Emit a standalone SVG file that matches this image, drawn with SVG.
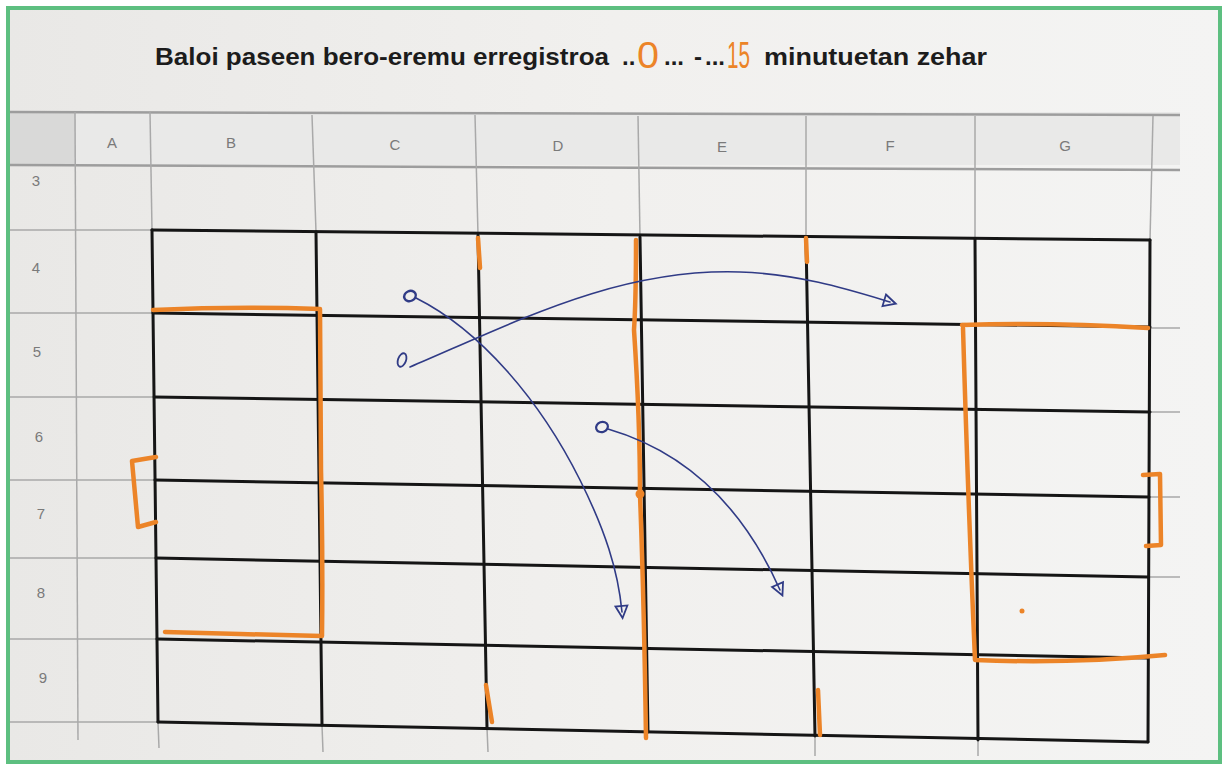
<svg xmlns="http://www.w3.org/2000/svg" width="1225" height="769" viewBox="0 0 1225 769">
<defs>
<style>
.sheet{stroke:#a9a9a9;stroke-width:1.5;fill:none}
.sheetb{stroke:#9d9d9d;stroke-width:2.5;fill:none}
.grid{stroke:#151515;stroke-width:3;fill:none;stroke-linecap:round}
.orange{stroke:#ec8428;stroke-width:4.5;fill:none;stroke-linecap:round;stroke-linejoin:round}
.pen{stroke:#303b86;stroke-width:1.6;fill:none;stroke-linecap:round}
.lbl{font-family:"Liberation Sans",Arial,sans-serif;font-size:15px;fill:#7a7a7a;text-anchor:middle}
.title{font-family:"Liberation Sans",Arial,sans-serif;font-size:24px;font-weight:bold;fill:#1c1c1c}
.hand{font-family:"Liberation Sans",Arial,sans-serif;font-size:36px;fill:#ec8428}
</style>
<linearGradient id="paper" x1="0" y1="0" x2="1" y2="0">
<stop offset="0" stop-color="#e9e8e6"/>
<stop offset="0.5" stop-color="#f1f0ee"/>
<stop offset="1" stop-color="#f4f4f3"/>
</linearGradient>
<marker id="tri" markerWidth="16" markerHeight="16" refX="8" refY="8" orient="auto" markerUnits="userSpaceOnUse">
<path d="M2,2 L14,8 L2,14 Z" fill="none" stroke="#303b86" stroke-width="1.8"/>
</marker>
</defs>

<rect x="0" y="0" width="1225" height="769" fill="#ffffff"/>
<rect x="8" y="8" width="1212" height="754" fill="url(#paper)"/>

<!-- title -->
<g id="title">
<text class="title" x="155" y="65" textLength="454" lengthAdjust="spacingAndGlyphs">Baloi paseen bero-eremu erregistroa</text>
<text class="title" x="622" y="65">..</text>
<text class="hand" x="637" y="68" textLength="22" lengthAdjust="spacingAndGlyphs">0</text>
<text class="title" x="664" y="65">...</text>
<text class="title" x="694" y="65">-</text>
<text class="title" x="705" y="65">...</text>
<text class="hand" x="727" y="68" textLength="23" lengthAdjust="spacingAndGlyphs">15</text>
<text class="title" x="764" y="65" textLength="223" lengthAdjust="spacingAndGlyphs">minutuetan zehar</text>
</g>

<!-- spreadsheet background -->
<g id="spreadsheet">
<rect x="10" y="112" width="65" height="53" fill="#d9d9d8"/>
<rect x="75" y="112" width="1105" height="53" fill="#e9e9e8"/>
<line class="sheetb" x1="10" y1="112" x2="1180" y2="115"/>
<line class="sheetb" x1="10" y1="165" x2="1180" y2="170"/>
<line class="sheet" x1="10" y1="230" x2="152" y2="230"/>
<line class="sheet" x1="10" y1="313" x2="152" y2="313"/>
<line class="sheet" x1="10" y1="397" x2="152" y2="397"/>
<line class="sheet" x1="10" y1="480" x2="154" y2="480"/>
<line class="sheet" x1="10" y1="558" x2="155" y2="558"/>
<line class="sheet" x1="10" y1="639" x2="156" y2="639"/>
<line class="sheet" x1="10" y1="722" x2="158" y2="722"/>
<line class="sheet" x1="1150" y1="328" x2="1180" y2="328"/>
<line class="sheet" x1="1150" y1="412" x2="1180" y2="412"/>
<line class="sheet" x1="1148" y1="497" x2="1180" y2="497"/>
<line class="sheet" x1="1148" y1="577" x2="1180" y2="577"/>
<line class="sheet" x1="75" y1="112" x2="78" y2="740"/>
<line class="sheet" x1="150" y1="112" x2="152" y2="230"/>
<line class="sheet" x1="312" y1="115" x2="316" y2="232"/>
<line class="sheet" x1="475" y1="115" x2="478" y2="235"/>
<line class="sheet" x1="638" y1="116" x2="640" y2="237"/>
<line class="sheet" x1="806" y1="116" x2="806" y2="238"/>
<line class="sheet" x1="975" y1="116" x2="975" y2="239"/>
<line class="sheet" x1="1153" y1="116" x2="1150" y2="240"/>
<line class="sheet" x1="158" y1="722" x2="159" y2="748"/>
<line class="sheet" x1="322" y1="725" x2="323" y2="752"/>
<line class="sheet" x1="487" y1="728" x2="488" y2="752"/>
<line class="sheet" x1="815" y1="736" x2="815" y2="756"/>
<line class="sheet" x1="978" y1="740" x2="978" y2="756"/>
<text class="lbl" x="112" y="148">A</text>
<text class="lbl" x="231" y="148">B</text>
<text class="lbl" x="395" y="150">C</text>
<text class="lbl" x="558" y="151">D</text>
<text class="lbl" x="722" y="152">E</text>
<text class="lbl" x="890" y="151">F</text>
<text class="lbl" x="1065" y="151">G</text>
<text class="lbl" x="36" y="186">3</text>
<text class="lbl" x="36" y="273">4</text>
<text class="lbl" x="37" y="357">5</text>
<text class="lbl" x="39" y="442">6</text>
<text class="lbl" x="41" y="519">7</text>
<text class="lbl" x="41" y="598">8</text>
<text class="lbl" x="43" y="683">9</text>
</g>

<!-- black field grid -->
<g id="field">
<line class="grid" x1="152" y1="230" x2="1150" y2="240"/>
<line class="grid" x1="153" y1="313" x2="1150" y2="327"/>
<line class="grid" x1="154" y1="397" x2="1150" y2="412"/>
<line class="grid" x1="155" y1="480" x2="1149" y2="497"/>
<line class="grid" x1="156" y1="558" x2="1148" y2="577"/>
<line class="grid" x1="157" y1="639" x2="1148" y2="658"/>
<line class="grid" x1="158" y1="722" x2="1148" y2="742"/>
<line class="grid" x1="152" y1="230" x2="158" y2="722"/>
<line class="grid" x1="316" y1="232" x2="322" y2="725"/>
<line class="grid" x1="478" y1="235" x2="487" y2="728"/>
<line class="grid" x1="640" y1="237" x2="648" y2="732"/>
<line class="grid" x1="806" y1="238" x2="815" y2="736"/>
<line class="grid" x1="975" y1="239" x2="978" y2="740"/>
<line class="grid" x1="1150" y1="240" x2="1148" y2="742"/>
</g>

<!-- orange marks -->
<g id="zones">
<path class="orange" d="M153,310 Q240,306 320,309 L321,470 Q323,560 322,636 L240,634 L165,632"/>
<path class="orange" d="M156,457 L132,461 L138,527 L156,522"/>
<path class="orange" d="M1143,475 L1160,474 L1161,545 L1146,546"/>
<path class="orange" d="M962,325 Q1050,322 1148,328"/>
<path class="orange" d="M963,328 Q968,500 975,660 Q1070,664 1165,655"/>
<path class="orange" d="M636,240 Q636,300 634,330 Q640,420 640,495 Q644,600 646,738"/>
<circle cx="640" cy="494" r="4.5" fill="#ec8428"/>
<line class="orange" x1="478" y1="238" x2="480" y2="268"/>
<line class="orange" x1="806" y1="238" x2="807" y2="262"/>
<line class="orange" x1="486" y1="685" x2="492" y2="722"/>
<line class="orange" x1="818" y1="690" x2="820" y2="735"/>
<circle cx="1022" cy="611" r="2.5" fill="#ec8428"/>
</g>

<!-- pass arrows -->
<g id="passes">
<ellipse cx="410" cy="296" rx="6" ry="5" fill="none" stroke="#303b86" stroke-width="2.4" transform="rotate(-25 410 296)"/>
<ellipse cx="402" cy="360" rx="4" ry="7" fill="none" stroke="#303b86" stroke-width="1.8" transform="rotate(20 402 360)"/>
<ellipse cx="602" cy="427" rx="6" ry="5" fill="none" stroke="#303b86" stroke-width="2.2" transform="rotate(-20 602 427)"/>
<path class="pen" d="M416,298 C480,330 540,400 580,480 C605,530 618,570 622,612" marker-end="url(#tri)"/>
<path class="pen" d="M410,367 C520,320 620,268 740,272 C800,274 850,290 890,302" marker-end="url(#tri)"/>
<path class="pen" d="M608,429 C680,450 740,500 780,590" marker-end="url(#tri)"/>
</g>

<!-- frame -->
<rect x="8" y="8" width="1212" height="754" fill="none" stroke="#5dbf80" stroke-width="4"/>
</svg>
